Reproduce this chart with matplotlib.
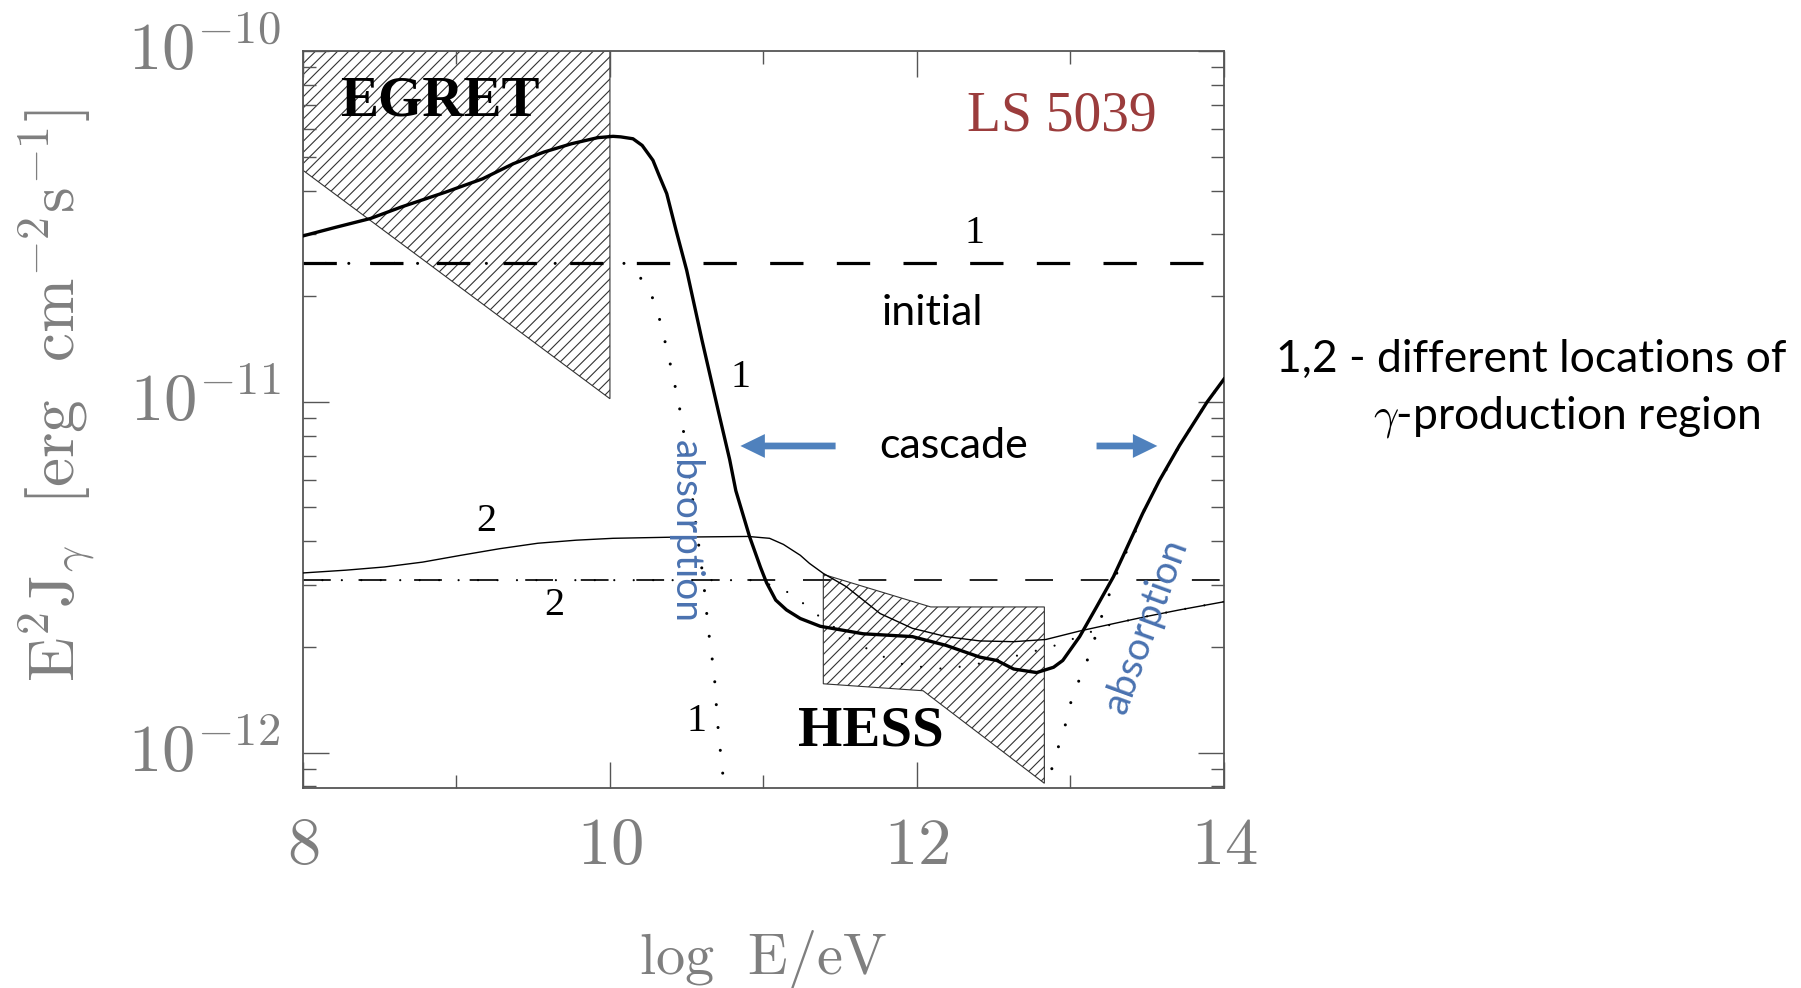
import numpy as np
import matplotlib
matplotlib.use('Agg')
import matplotlib.pyplot as plt
from matplotlib.ticker import FixedLocator, LogLocator, NullFormatter
from matplotlib.transforms import ScaledTranslation

plt.rcParams['mathtext.fontset'] = 'cm'
plt.rcParams['lines.scale_dashes'] = False
plt.rcParams['hatch.linewidth'] = 0.8

UNIT = 1e-12  # all fluxes below in units of 1e-12 erg cm^-2 s^-1

# initial (injected) spectra for positions 1 and 2
init_logE = [8.0, 14.0]
init_1 = [24.8, 24.8]
init_2 = [3.10, 3.10]

# observed spectrum incl. cascade, position 1 (thick)
casc1_logE = [8.0, 8.21, 8.44, 8.64, 8.93, 9.17, 9.37, 9.57, 9.75, 9.92, 10.02,
              10.07, 10.15, 10.21, 10.28, 10.32, 10.37, 10.43, 10.50, 10.60, 10.71,
              10.78, 10.82, 10.91, 10.98, 11.02, 11.08, 11.15, 11.24, 11.37, 11.65,
              11.97, 12.19, 12.41, 12.52, 12.63, 12.78, 12.89, 12.95, 13.06, 13.17,
              13.28, 13.34, 13.47, 13.58, 13.71, 13.89, 14.0]
casc1_flux = [29.7, 31.4, 33.3, 35.9, 39.6, 43.2, 47.7, 51.5, 54.4, 56.6, 57.1,
              56.9, 56.2, 53.8, 48.8, 44.2, 39.2, 30.9, 23.7, 14.96, 9.24,
              6.84, 5.58, 4.12, 3.38, 3.05, 2.72, 2.55, 2.41, 2.29, 2.18,
              2.14, 2.02, 1.87, 1.83, 1.73, 1.69, 1.75, 1.83, 2.14, 2.60,
              3.17, 3.61, 4.80, 5.97, 7.5, 9.98, 11.6]

# observed spectrum incl. cascade, position 2 (thin)
casc2_logE = [8.0, 8.28, 8.53, 8.78, 9.03, 9.28, 9.53, 9.78, 10.02, 10.40, 10.90,
              11.04, 11.13, 11.24, 11.30, 11.39, 11.54, 11.76, 11.97, 12.19, 12.41,
              12.63, 12.84, 13.06, 13.28, 13.49, 13.71, 14.0]
casc2_flux = [3.25, 3.31, 3.38, 3.49, 3.65, 3.81, 3.95, 4.03, 4.08, 4.11, 4.13,
              4.08, 3.92, 3.65, 3.46, 3.24, 2.97, 2.49, 2.26, 2.14, 2.08,
              2.07, 2.10, 2.22, 2.33, 2.44, 2.55, 2.69]

# absorbed spectra without cascade (dotted)
abs1_logE = [8.0, 10.10, 10.14, 10.24, 10.30, 10.34, 10.41, 10.47, 10.53, 10.57,
             10.61, 10.64, 10.68, 10.70, 10.73, 10.75]
abs1_flux = [24.8, 24.8, 24.1, 21.5, 18.8, 16.1, 11.9, 8.83, 5.62, 4.16,
             3.07, 2.26, 1.66, 1.23, 0.907, 0.768]
abs1_hi_logE = [12.83, 12.84, 12.89, 12.93, 12.98, 13.01, 13.07, 13.13, 13.22, 13.27,
                13.32, 13.39, 13.45, 13.51, 13.58, 13.71, 13.89, 14.0]
abs1_hi_flux = [0.78, 0.81, 0.927, 1.07, 1.25, 1.44, 1.66, 1.93, 2.58, 2.96,
                3.42, 3.94, 4.58, 5.25, 5.92, 7.5, 9.98, 11.6]
abs2_logE = [8.0, 10.95, 11.05, 11.17, 11.28, 11.37, 11.58, 11.69, 11.80, 11.93,
             12.19, 12.43, 12.68, 12.92, 13.17, 13.28, 13.49, 13.71, 14.0]
abs2_flux = [3.10, 3.10, 3.00, 2.85, 2.62, 2.43, 2.09, 1.96, 1.86, 1.77,
             1.73, 1.80, 1.90, 2.03, 2.24, 2.33, 2.44, 2.55, 2.69]

# EGRET and HESS butterflies
egret_logE = [8.0, 10.0, 10.0, 8.0]
egret_flux = [100.0, 100.0, 10.2, 45.7]
hess_logE = [11.39, 12.09, 12.83, 12.83, 12.04, 11.39]
hess_flux = [3.22, 2.60, 2.60, 0.817, 1.50, 1.57]

fig = plt.figure(figsize=(18.01, 9.88), dpi=100)
ax = fig.add_axes([0.1682, 0.2024, 0.5114, 0.746])

ax.fill(egret_logE, np.array(egret_flux) * UNIT, facecolor='none',
        edgecolor='#333333', hatch='///', lw=0.8, zorder=1)
ax.fill(hess_logE, np.array(hess_flux) * UNIT, facecolor='none',
        edgecolor='#333333', hatch='///', lw=0.8, zorder=1)

ax.plot(init_logE, np.array(init_1) * UNIT, color='k', lw=2.3, dashes=(24, 24))
ax.plot(init_logE, np.array(init_2) * UNIT, color='#222222', lw=1.4, dashes=(20, 20))

dot1 = dict(color='k', lw=2.2, linestyle=(0, (0.01, 16.5)), dash_capstyle='round')
ax.plot(abs1_logE, np.array(abs1_flux) * UNIT, **dot1)
ax.plot(abs1_hi_logE, np.array(abs1_hi_flux) * UNIT, **dot1)
ax.plot(abs2_logE, np.array(abs2_flux) * UNIT, color='k', lw=1.6,
        linestyle=(0, (0.01, 14)), dash_capstyle='round')

ax.plot(casc1_logE, np.array(casc1_flux) * UNIT, color='k', lw=2.4, zorder=3,
        solid_joinstyle='round')
ax.plot(casc2_logE, np.array(casc2_flux) * UNIT, color='k', lw=1.0, zorder=3,
        solid_joinstyle='round')

ax.set_yscale('log')
ax.set_xlim(8, 14)
ax.set_ylim(0.792e-12, 1e-10)

ax.set_xticks([8, 10, 12, 14])
ax.set_xticklabels([r'$8$', r'$10$', r'$12$', r'$14$'])
ax.xaxis.set_minor_locator(FixedLocator([9, 11, 13]))
ax.set_yticks([1e-12, 1e-11, 1e-10])
ax.set_yticklabels([r'$10^{-12}$', r'$10^{-11}$', r'$10^{-10}$'])
ax.yaxis.set_minor_locator(LogLocator(base=10, subs=range(2, 10)))
ax.yaxis.set_minor_formatter(NullFormatter())

ax.tick_params(which='both', direction='in', top=True, right=True,
               color='#555555', labelcolor='#7f7f7f', width=1.0)
ax.tick_params(which='major', length=19, labelsize=48)
ax.tick_params(axis='x', which='major', pad=17)
ax.tick_params(axis='y', which='major', pad=16)
ax.tick_params(which='minor', length=9.5)
for s in ax.spines.values():
    s.set_color('#555555')
    s.set_linewidth(1.3)

# lift the y labels so the mantissa sits on the tick
for lab in ax.get_yticklabels():
    lab.set_transform(lab.get_transform() + ScaledTranslation(0, 5 / 72, fig.dpi_scale_trans))

ax.set_xlabel(r'$\mathrm{log\ \ E/eV}$', fontsize=42, color='#7f7f7f')
ax.xaxis.set_label_coords(0.5, -0.19)
ax.set_ylabel(r'$\mathrm{E^2J_\gamma\ \ [erg\ \ cm^{-2}s^{-1}]}$', fontsize=47, color='#7f7f7f')
ax.yaxis.set_label_coords(-0.221, 0.533)

serif = 'Liberation Serif'
sans = 'Lato'
ax.text(8.89, 7.18e-11, 'EGRET', fontsize=41, family=serif, weight='bold',
        ha='center', va='center')
ax.text(11.70, 1.145e-12, 'HESS', fontsize=41, family=serif, weight='bold',
        ha='center', va='center')
ax.text(12.945, 6.51e-11, 'LS 5039', fontsize=40, family=serif, color='#9b3c3c',
        ha='center', va='center')

for x, y, s in [(12.376, 30.2, '1'), (10.85, 11.76, '1'), (10.566, 1.226, '1'),
                (9.197, 4.55, '2'), (9.638, 2.62, '2')]:
    ax.text(x, y * UNIT, s, fontsize=29, family=serif, ha='center', va='center')

ax.text(12.10, 17.9e-12, 'initial', fontsize=31, family=sans, ha='center', va='center')
ax.text(12.242, 7.48e-12, 'cascade', fontsize=31, family=sans, ha='center', va='center')

blue_txt = '#4a72b0'
ax.text(10.491, 4.28e-12, 'absorption', fontsize=28, family=sans, color=blue_txt,
        rotation=-90, ha='center', va='center')
ax.text(13.491, 2.29e-12, 'absorption', fontsize=28, family=sans, color=blue_txt,
        rotation=70, ha='center', va='center', rotation_mode='anchor')

arrow = dict(arrowstyle='simple,head_length=0.8,head_width=0.78,tail_width=0.22',
             color='#4f81bd', lw=0, mutation_scale=22, shrinkA=0, shrinkB=0)
ax.annotate('', xy=(10.85, 7.48e-12), xytext=(11.47, 7.48e-12), arrowprops=arrow)
ax.annotate('', xy=(13.566, 7.48e-12), xytext=(13.17, 7.48e-12), arrowprops=arrow)

fig.text(0.850, 0.636, '1,2 - different locations of', fontsize=32, family=sans,
         ha='center', va='center')
fig.text(0.870, 0.578, r'$\gamma$-production region', fontsize=32, family=sans,
         ha='center', va='center')

fig.savefig('out.png', dpi=100, facecolor='white')
